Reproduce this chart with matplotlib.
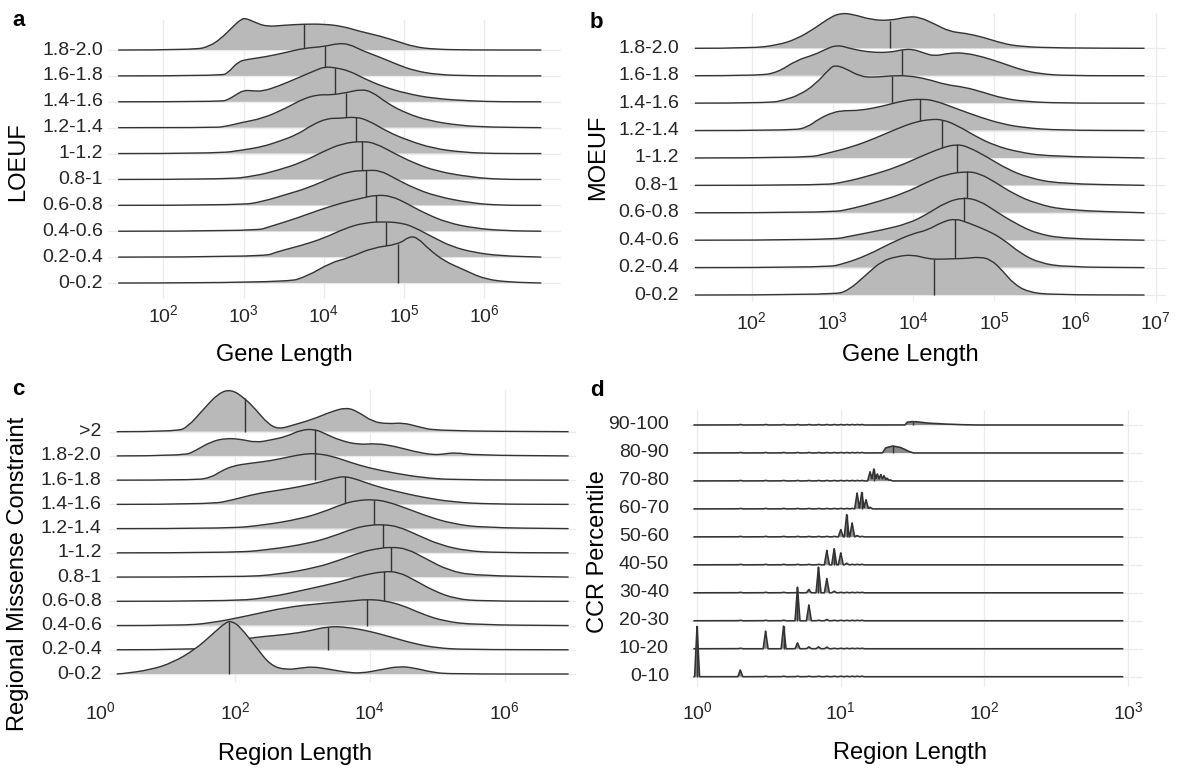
import numpy as np
import matplotlib
matplotlib.use("Agg")
import matplotlib.pyplot as plt
from matplotlib.path import Path
from matplotlib.patches import PathPatch
from matplotlib.transforms import blended_transform_factory

plt.rcParams["font.family"] = ["Liberation Sans", "DejaVu Sans"]
plt.rcParams["mathtext.fontset"] = "custom"
plt.rcParams["mathtext.rm"] = "Liberation Sans"
plt.rcParams["mathtext.it"] = "Liberation Sans:italic"
plt.rcParams["mathtext.bf"] = "Liberation Sans:bold"

# ---------------- data (x in log10 length, heights in row units) ----------------
# panel a: LOEUF vs gene length, rows listed bottom to top
a_cats = ["0-0.2", "0.2-0.4", "0.4-0.6", "0.6-0.8", "0.8-1", "1-1.2",
          "1.2-1.4", "1.4-1.6", "1.6-1.8", "1.8-2.0"]
a_range = (1.437, 6.71)
a_x = [
    [3.52, 3.8, 4.08, 4.32, 4.6, 4.93, 5.07, 5.17, 5.31, 5.5, 5.73, 6.01, 6.34],
    [3.24, 3.43, 3.71, 4.0, 4.27, 4.51, 4.77, 4.98, 5.12, 5.36, 5.59, 5.87, 6.2],
    [3.14, 3.33, 3.66, 3.94, 4.23, 4.46, 4.65, 4.84, 5.03, 5.26, 5.54, 5.87, 6.25],
    [2.96, 3.24, 3.52, 3.8, 4.08, 4.32, 4.53, 4.7, 4.88, 5.12, 5.4, 5.83, 6.2],
    [2.77, 3.14, 3.43, 3.71, 4.0, 4.23, 4.48, 4.65, 4.88, 5.12, 5.4, 5.83, 6.2],
    [2.67, 3.0, 3.24, 3.43, 3.66, 3.85, 4.04, 4.2, 4.4, 4.56, 4.79, 5.03, 5.36, 5.73, 6.1],
    [2.6, 2.77, 2.96, 3.24, 3.52, 3.75, 3.94, 4.08, 4.28, 4.46, 4.6, 4.79, 5.03, 5.31, 5.68, 6.05],
    [2.72, 2.81, 2.9, 3.0, 3.12, 3.24, 3.43, 3.66, 3.9, 4.01, 4.14, 4.32, 4.5, 4.74, 5.03, 5.36, 5.83, 6.2],
    [2.72, 2.81, 2.93, 3.05, 3.28, 3.52, 3.75, 4.0, 4.18, 4.32, 4.46, 4.7, 4.93, 5.12, 5.4, 5.83],
    [2.39, 2.58, 2.72, 2.85, 2.97, 3.03, 3.12, 3.28, 3.52, 3.75, 4.0, 4.23, 4.46, 4.7, 4.93, 5.12, 5.36, 5.8],
]
a_h = [
    [0, 0.27, 0.78, 0.98, 1.36, 1.49, 1.81, 1.74, 1.3, 0.85, 0.53, 0.14, 0.03],
    [0, 0.22, 0.44, 0.73, 1.12, 1.33, 1.37, 1.31, 1.16, 0.77, 0.41, 0.18, 0.05],
    [0, 0.18, 0.5, 0.82, 1.1, 1.27, 1.4, 1.36, 1.08, 0.69, 0.33, 0.12, 0.02],
    [0, 0.15, 0.41, 0.67, 1.05, 1.31, 1.35, 1.35, 1.05, 0.67, 0.35, 0.09, 0.0],
    [0, 0.13, 0.36, 0.64, 1.09, 1.39, 1.48, 1.39, 1.0, 0.64, 0.32, 0.09, 0.0],
    [0, 0.14, 0.27, 0.46, 0.72, 1.1, 1.36, 1.36, 1.42, 1.27, 0.85, 0.53, 0.2, 0.05, 0],
    [0, 0.04, 0.19, 0.36, 0.74, 1.13, 1.28, 1.26, 1.35, 1.48, 1.39, 0.94, 0.55, 0.27, 0.09, 0.02],
    [0, 0.09, 0.26, 0.45, 0.42, 0.41, 0.6, 0.9, 1.22, 1.35, 1.32, 1.19, 0.9, 0.58, 0.32, 0.13, 0.03, 0],
    [0, 0.13, 0.55, 0.64, 0.74, 0.9, 1.07, 1.13, 1.26, 1.22, 1.0, 0.72, 0.42, 0.21, 0.05, 0],
    [0, 0.15, 0.45, 0.85, 1.2, 1.22, 1.1, 0.9, 0.96, 1.0, 1.0, 0.92, 0.71, 0.54, 0.32, 0.13, 0.03, 0],
]
a_median = [4.93, 4.77, 4.65, 4.53, 4.48, 4.40, 4.28, 4.14, 4.01, 3.75]
a_ticks = [2, 3, 4, 5, 6]

# panel b: MOEUF vs gene length
b_cats = a_cats
b_range = (1.295, 6.86)
b_x = [
    [3.01, 3.2, 3.43, 3.61, 3.8, 3.99, 4.17, 4.3, 4.45, 4.64, 4.82, 4.96, 5.1, 5.24, 5.42, 5.7],
    [2.92, 3.15, 3.43, 3.71, 3.99, 4.17, 4.36, 4.52, 4.68, 4.91, 5.1, 5.33, 5.56, 5.89],
    [2.97, 3.24, 3.61, 3.94, 4.17, 4.4, 4.62, 4.82, 5.01, 5.24, 5.52, 5.89],
    [2.97, 3.24, 3.57, 3.89, 4.17, 4.4, 4.66, 4.82, 5.01, 5.24, 5.52, 5.89],
    [2.87, 3.15, 3.48, 3.8, 4.08, 4.36, 4.54, 4.68, 4.91, 5.15, 5.42, 5.8],
    [2.69, 2.92, 3.24, 3.52, 3.8, 4.03, 4.22, 4.36, 4.54, 4.77, 5.0, 5.29, 5.66],
    [2.5, 2.69, 2.83, 3.01, 3.15, 3.34, 3.61, 3.89, 4.08, 4.26, 4.54, 4.82, 5.1, 5.38, 5.8],
    [2.22, 2.41, 2.59, 2.78, 2.97, 3.03, 3.15, 3.34, 3.52, 3.73, 3.94, 4.17, 4.4, 4.64, 4.87, 5.1, 5.38, 5.8],
    [2.08, 2.32, 2.55, 2.78, 2.9, 3.06, 3.24, 3.48, 3.71, 3.86, 3.99, 4.13, 4.26, 4.45, 4.64, 4.87, 5.1, 5.33, 5.56, 5.9],
    [2.0, 2.32, 2.55, 2.78, 2.97, 3.1, 3.24, 3.48, 3.71, 3.94, 4.08, 4.26, 4.45, 4.64, 4.87, 5.1, 5.33, 5.8],
]
b_h = [
    [0, 0.17, 0.78, 1.24, 1.41, 1.47, 1.33, 1.3, 1.32, 1.33, 1.39, 1.29, 0.9, 0.41, 0.11, 0.01],
    [0, 0.15, 0.45, 0.88, 1.24, 1.36, 1.67, 1.79, 1.63, 1.36, 1.06, 0.51, 0.17, 0.02],
    [0, 0.16, 0.37, 0.61, 0.95, 1.38, 1.56, 1.44, 1.07, 0.65, 0.24, 0.05],
    [0, 0.15, 0.41, 0.72, 1.12, 1.4, 1.51, 1.43, 1.12, 0.69, 0.33, 0.09],
    [0, 0.12, 0.37, 0.67, 1.04, 1.38, 1.5, 1.4, 1.04, 0.61, 0.28, 0.06],
    [0, 0.16, 0.4, 0.71, 1.07, 1.32, 1.41, 1.4, 1.19, 0.79, 0.46, 0.22, 0.06],
    [0, 0.12, 0.43, 0.67, 0.73, 0.73, 0.88, 1.1, 1.15, 1.1, 0.79, 0.49, 0.24, 0.1, 0.01],
    [0, 0.12, 0.3, 0.67, 1.28, 1.38, 1.28, 0.97, 0.94, 1.0, 1.0, 0.88, 0.67, 0.58, 0.39, 0.18, 0.06, 0],
    [0, 0.12, 0.56, 0.77, 0.95, 1.13, 0.97, 0.85, 0.85, 0.95, 0.97, 0.83, 0.71, 0.83, 0.83, 0.68, 0.46, 0.22, 0.07, 0],
    [0, 0.12, 0.33, 0.73, 1.13, 1.28, 1.25, 1.04, 1.01, 1.16, 1.13, 0.89, 0.61, 0.55, 0.4, 0.18, 0.06, 0.01],
]
b_median = [4.25, 4.52, 4.62, 4.66, 4.54, 4.36, 4.08, 3.73, 3.86, 3.71]
b_ticks = [2, 3, 4, 5, 6, 7]

# panel c: regional missense constraint vs region length
c_cats = ["0-0.2", "0.2-0.4", "0.4-0.6", "0.6-0.8", "0.8-1", "1-1.2",
          "1.2-1.4", "1.4-1.6", "1.6-1.8", "1.8-2.0", ">2"]
c_range = (0.24, 6.95)
c_x = [
    [0.29, 0.74, 1.08, 1.41, 1.64, 1.86, 1.95, 2.08, 2.31, 2.53, 2.76, 2.98, 3.15, 3.37, 3.65, 3.87, 4.15, 4.43, 4.66, 4.94, 5.22],
    [1.5, 1.8, 2.0, 2.17, 2.42, 2.76, 3.09, 3.37, 3.65, 3.99, 4.32, 4.66, 4.99, 5.38],
    [1.19, 1.64, 2.2, 2.76, 3.31, 3.71, 3.96, 4.21, 4.49, 4.77, 5.1, 5.55],
    [1.97, 2.53, 3.09, 3.54, 3.87, 4.21, 4.43, 4.66, 4.94, 5.27, 5.66],
    [2.08, 2.64, 3.2, 3.54, 3.87, 4.1, 4.31, 4.55, 4.83, 5.16, 5.55],
    [1.97, 2.53, 3.09, 3.43, 3.76, 3.99, 4.19, 4.43, 4.71, 5.05, 5.44, 5.89],
    [1.86, 2.42, 2.98, 3.31, 3.59, 3.82, 4.06, 4.27, 4.55, 4.88, 5.22, 5.66],
    [1.64, 1.97, 2.31, 2.64, 2.98, 3.26, 3.48, 3.63, 3.82, 4.1, 4.43, 4.77, 5.22, 5.78],
    [1.41, 1.64, 1.8, 1.97, 2.2, 2.53, 2.81, 3.03, 3.19, 3.43, 3.71, 3.99, 4.38, 4.77, 5.22],
    [1.24, 1.41, 1.64, 1.86, 2.08, 2.31, 2.53, 2.76, 2.98, 3.19, 3.37, 3.54, 3.82, 4.1, 4.38, 4.66, 4.94, 5.1, 5.27, 5.55],
    [1.13, 1.3, 1.52, 1.75, 1.94, 2.14, 2.31, 2.48, 2.64, 2.87, 3.15, 3.43, 3.65, 3.82, 4.04, 4.27, 4.49, 4.71, 4.99],
]
c_h = [
    [0, 0.17, 0.48, 1.03, 1.59, 2.14, 2.18, 1.93, 1.1, 0.34, 0.17, 0.25, 0.3, 0.21, 0.07, 0.03, 0.17, 0.32, 0.25, 0.06, 0],
    [0, 0.2, 0.38, 0.46, 0.55, 0.63, 0.77, 0.96, 0.94, 0.77, 0.52, 0.25, 0.08, 0.01],
    [0, 0.1, 0.41, 0.76, 0.92, 1.01, 1.08, 1.03, 0.83, 0.48, 0.18, 0.03],
    [0, 0.17, 0.51, 0.79, 1.06, 1.24, 1.2, 0.88, 0.44, 0.1, 0.01],
    [0, 0.11, 0.39, 0.69, 1.03, 1.17, 1.24, 1.17, 0.76, 0.28, 0.06],
    [0, 0.14, 0.39, 0.66, 1.01, 1.14, 1.17, 1.08, 0.73, 0.32, 0.08, 0.01],
    [0, 0.14, 0.41, 0.69, 1.01, 1.17, 1.2, 1.1, 0.83, 0.48, 0.21, 0.04],
    [0, 0.19, 0.44, 0.58, 0.74, 0.92, 1.09, 1.16, 1.02, 0.74, 0.51, 0.3, 0.1, 0.01],
    [0, 0.11, 0.39, 0.59, 0.69, 0.8, 0.97, 1.08, 1.1, 1.0, 0.73, 0.5, 0.28, 0.11, 0.01],
    [0, 0.22, 0.59, 0.73, 0.69, 0.55, 0.66, 0.8, 1.08, 1.1, 0.87, 0.66, 0.46, 0.52, 0.39, 0.18, 0.04, 0.08, 0.14, 0.03],
    [0, 0.21, 0.9, 1.59, 1.75, 1.38, 0.9, 0.34, 0.1, 0.28, 0.51, 0.83, 1.0, 0.83, 0.41, 0.32, 0.37, 0.21, 0.03],
]
c_median = [1.9, 3.37, 3.96, 4.21, 4.31, 4.19, 4.06, 3.63, 3.19, 3.19, 2.14]
c_ticks = [0, 2, 4, 6]

# panel d: CCR percentile vs region length (peaks at integer lengths)
d_cats = ["0-10", "10-20", "20-30", "30-40", "40-50", "50-60",
          "60-70", "70-80", "80-90", "90-100"]
d_range = (-0.02, 2.961)
d_peaks = [
    [(1, 1.81), (2, 0.24)],
    [(3, 0.63), (4, 0.81), (5, 0.21), (6, 0.07), (7, 0.07), (8, 0.06)],
    [(5, 1.2), (6, 0.57), (8, 0.05)],
    [(6, 0.12), (7, 0.92), (8, 0.51), (9, 0.06)],
    [(8, 0.52), (9, 0.58), (10, 0.43), (11, 0.06)],
    [(10, 0.26), (11, 0.8), (12, 0.5), (13, 0.05)],
    [(13, 0.57), (14, 0.59), (15, 0.33), (16, 0.06)],
    [(16, 0.33), (17, 0.43), (18, 0.25), (19, 0.23), (20, 0.19), (21, 0.1), (22, 0.04)],
    [],
    [],
]
d_hump = [
    [], [], [], [], [], [], [], [],
    [(19.5, 0), (20.5, 0.18), (22, 0.22), (23, 0.25), (24.5, 0.22), (26, 0.2), (28, 0.12), (30, 0.05), (32, 0)],
    [(28, 0), (29, 0.1), (31, 0.12), (33, 0.12), (36, 0.1), (40, 0.07), (50, 0.04), (65, 0.015), (85, 0)],
]
d_ripple_len = [2, 3, 4, 5, 6, 7, 8, 9, 10, 11, 12, 13, 14]
d_ripple_h = 0.02
d_median = [1, 4, 5, 7, 9, 11, 14, 17, 23, 32]
d_ticks = [0, 1, 2, 3]

# ---------------- style ----------------
W, H = 1178, 770
FILL = "#b9b9b9"
D_FILL = "#8a8a8a"
LINE = "#333333"
GRID = "#ebebeb"
LW = 1.0
SPIKE_W = 0.017
TICK_FS = 14
TITLE_FS = 17

fig = plt.figure(figsize=(W / 100, H / 100), dpi=100)


def make_axes(left, right, top, bottom, xlim, ylim):
    ax = fig.add_axes([left / W, 1 - bottom / H, (right - left) / W, (bottom - top) / H])
    ax.set_xlim(*xlim)
    ax.set_ylim(*ylim)
    ax.set_xticks([])
    ax.set_yticks([])
    for s in ax.spines.values():
        s.set_visible(False)
    ax.patch.set_alpha(0)
    return ax


def decorate(ax, cats, ticks, ylab_right, xlab_y):
    for i in range(len(cats)):
        ax.axhline(i, color=GRID, lw=0.9, zorder=0)
    lo, hi = ax.get_xlim()
    for t in ticks:
        if lo <= t <= hi:
            ax.axvline(t, color=GRID, lw=0.9, zorder=0)
    tx = blended_transform_factory(ax.transData, fig.transFigure)
    for t in ticks:
        ax.text(t, 1 - xlab_y / H, r"$\mathregular{10^{%d}}$" % t, transform=tx,
                ha="center", va="center", fontsize=TICK_FS, color="#262626", clip_on=False)
    ty = blended_transform_factory(fig.transFigure, ax.transData)
    for i, c in enumerate(cats):
        ax.text(ylab_right / W, i, c, transform=ty, ha="right", va="center",
                fontsize=TICK_FS, color="#262626")


def smooth_top(xs, ys):
    verts = [(xs[0], ys[0])]
    codes = [Path.MOVETO]
    for i in range(1, len(xs) - 1):
        verts.append((xs[i], ys[i]))
        verts.append(((xs[i] + xs[i + 1]) / 2, (ys[i] + ys[i + 1]) / 2))
        codes += [Path.CURVE3, Path.CURVE3]
    verts.append((xs[-1], ys[-1]))
    codes.append(Path.LINETO)
    return verts, codes


def ridges(ax, xs_list, hs_list, medians, rng):
    n = len(xs_list)
    for i in range(n):
        z = 10 + (n - i) * 2
        X = [rng[0]] + list(xs_list[i]) + [rng[1]]
        Y = [i] + [i + h for h in hs_list[i]] + [i]
        verts, codes = smooth_top(X, Y)
        fv = verts + [(rng[0], i), (rng[0], i)]
        fc = codes + [Path.LINETO, Path.CLOSEPOLY]
        ax.add_patch(PathPatch(Path(fv, fc), facecolor=FILL, edgecolor="none",
                               zorder=z, clip_on=False))
        ax.add_patch(PathPatch(Path(verts, codes), facecolor="none", edgecolor=LINE,
                               lw=LW, zorder=z + 1, clip_on=False))
        m = medians[i]
        ax.plot([m, m], [i, np.interp(m, X, Y)], color=LINE, lw=LW,
                zorder=z + 1, solid_capstyle="butt")


# ---------------- panel a ----------------
ax_a = make_axes(108, 561, 20, 299, (1.31, 6.955), (-0.618, 10.159))
decorate(ax_a, a_cats, a_ticks, 103, 315)
ridges(ax_a, a_x, a_h, a_median, a_range)

# ---------------- panel b ----------------
ax_b = make_axes(690, 1165.5, 12.6, 301.7, (1.235, 7.12), (-0.244, 10.302))
decorate(ax_b, b_cats, b_ticks, 679, 321.7)
ridges(ax_b, b_x, b_h, b_median, b_range)

# ---------------- panel c ----------------
ax_c = make_axes(110, 576, 390, 682, (0.14, 7.06), (-0.33, 11.72))
decorate(ax_c, c_cats, c_ticks, 101.7, 711.7)
ridges(ax_c, c_x, c_h, c_median, c_range)

# ---------------- panel d ----------------
ax_d = make_axes(690, 1142.5, 410, 686.7, (-0.049, 3.10), (-0.357, 9.536))
decorate(ax_d, d_cats, d_ticks, 669, 711.7)
grid = np.linspace(d_range[0], d_range[1], 12000)
n = len(d_cats)
for i in range(n):
    z = 10 + (n - i) * 2
    y = np.zeros_like(grid)
    for L in d_ripple_len:
        y = np.maximum(y, d_ripple_h * np.clip(1 - np.abs(grid - np.log10(L)) / SPIKE_W, 0, None))
    for L, h in d_peaks[i]:
        y = np.maximum(y, h * np.clip(1 - np.abs(grid - np.log10(L)) / SPIKE_W, 0, None))
    if d_hump[i]:
        hx = np.log10([p[0] for p in d_hump[i]])
        hy = [p[1] for p in d_hump[i]]
        y = np.maximum(y, np.interp(grid, hx, hy, left=0, right=0))
    ax_d.fill_between(grid, i, i + y, facecolor=D_FILL, edgecolor="none", zorder=z)
    ax_d.plot(grid, i + y, color=LINE, lw=1.15, zorder=z + 1)
    m = np.log10(d_median[i])
    ax_d.plot([m, m], [i, i + np.interp(m, grid, y)], color=LINE, lw=LW,
              zorder=z + 1, solid_capstyle="butt")

# ---------------- titles ----------------
fig.text(284 / W, 1 - 355 / H, "Gene Length", ha="center", va="center", fontsize=TITLE_FS)
fig.text(910 / W, 1 - 355 / H, "Gene Length", ha="center", va="center", fontsize=TITLE_FS)
fig.text(295 / W, 1 - 754 / H, "Region Length", ha="center", va="center", fontsize=TITLE_FS)
fig.text(910 / W, 1 - 753 / H, "Region Length", ha="center", va="center", fontsize=TITLE_FS)
fig.text(18 / W, 1 - 162 / H, "LOEUF", rotation=90, ha="center", va="center", fontsize=TITLE_FS)
fig.text(598 / W, 1 - 157 / H, "MOEUF", rotation=90, ha="center", va="center", fontsize=TITLE_FS)
fig.text(18 / W, 1 - 574 / H, "Regional Missense Constraint", rotation=90,
         ha="center", va="center", fontsize=TITLE_FS)
fig.text(598 / W, 1 - 552 / H, "CCR Percentile", rotation=90, ha="center", va="center",
         fontsize=TITLE_FS)

for lab, x, y in [("a", 12, 26), ("b", 590, 28), ("c", 12, 395), ("d", 590, 396)]:
    fig.text(x / W, 1 - y / H, lab, ha="left", va="baseline", fontsize=16, fontweight="bold")

fig.savefig("out.png", dpi=100)
